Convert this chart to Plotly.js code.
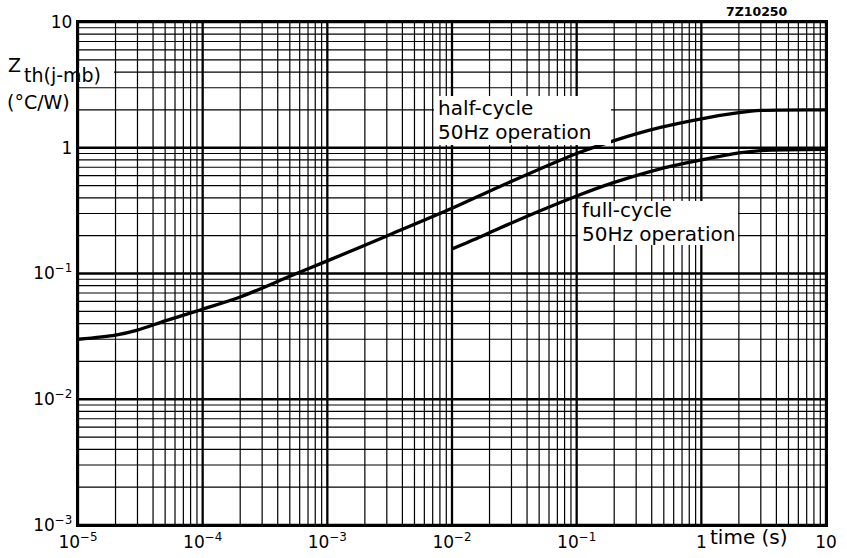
<!DOCTYPE html>
<html>
<head>
<meta charset="utf-8">
<script src="https://cdn.plot.ly/plotly-3.0.1.min.js"></script>
<style>html,body{margin:0;padding:0;background:#fff;}#chart{width:847px;height:558px;}</style>
</head>
<body>
<div id="chart"></div>
<script>
// ---- data ----
const halfTime = [1e-5, 2e-5, 3e-5, 5e-5, 1e-4, 2e-4, 5e-4, 1e-3, 3e-3, 1e-2, 2.4e-2, 0.1, 0.2, 0.47, 1, 2, 3, 10];
const halfZth  = [0.030, 0.0324, 0.0355, 0.042, 0.052, 0.065, 0.095, 0.126, 0.199, 0.33, 0.49, 0.90, 1.14, 1.45, 1.70, 1.90, 1.98, 2.0];
const fullTime = [1e-2, 1.7e-2, 2.4e-2, 0.1, 0.2, 0.47, 1, 2, 3, 10];
const fullZth  = [0.157, 0.196, 0.229, 0.413, 0.53, 0.68, 0.80, 0.91, 0.95, 0.97];

const xDecades = [1e-5, 1e-4, 1e-3, 1e-2, 1e-1, 1, 10];
const xDecadeText = ['10<sup>\u22125</sup>', '10<sup>\u22124</sup>', '10<sup>\u22123</sup>', '10<sup>\u22122</sup>', '10<sup>\u22121</sup>', '1', '10'];
const yDecades = [1e-3, 1e-2, 1e-1, 1, 10];
const yDecadeText = ['10<sup>\u22123</sup>', '10<sup>\u22122</sup>', '10<sup>\u22121</sup>', '1', '10'];
const mantissas = [2, 3, 4, 5, 6, 7, 8, 9];

// plot frame in pixels (left 78, right 826, top 22, bottom 525)
const L = 78, R = 826, T = 22, B = 525;
const px = x => (x - L) / (R - L);
const py = y => (B - y) / (B - T);
const FONT = 'DejaVu Sans, Verdana, sans-serif';

const traces = [
  {x: halfTime, y: halfZth, mode: 'lines', line: {color: '#000', width: 3.3, shape: 'spline', smoothing: 0.8}, hoverinfo: 'skip'},
  {x: fullTime, y: fullZth, mode: 'lines', line: {color: '#000', width: 3.3, shape: 'spline', smoothing: 0.8}, hoverinfo: 'skip'}
];

// grid lines: thick at decades, thin at 2..9 (paper fractions from log position)
const xFrac = v => (Math.log10(v) + 5) / 6;
const yFrac = v => (Math.log10(v) + 3) / 4;
const shapes = [];
function vline(f, w) { shapes.push({type: 'line', xref: 'paper', yref: 'paper', x0: f, x1: f, y0: 0, y1: 1, line: {color: '#000', width: w}, layer: 'below'}); }
function hline(f, w) { shapes.push({type: 'line', xref: 'paper', yref: 'paper', x0: 0, x1: 1, y0: f, y1: f, line: {color: '#000', width: w}, layer: 'below'}); }
xDecades.forEach((d, i) => {
  vline(xFrac(d), 2.3);
  if (i < xDecades.length - 1) mantissas.forEach(m => vline(xFrac(m * d), 1.2));
});
yDecades.forEach((d, i) => {
  hline(yFrac(d), 2.3);
  if (i < yDecades.length - 1) mantissas.forEach(m => hline(yFrac(m * d), 1.2));
});

function lbl(text, x, y, size, anchor, extra) {
  return Object.assign({text: text, xref: 'paper', yref: 'paper', x: px(x), y: py(y), xanchor: anchor || 'left', yanchor: 'middle',
    showarrow: false, font: {family: FONT, size: size, color: '#000'}}, extra || {});
}
function whiteBox(x0, y0, x1, y1) {
  return {text: ' ', xref: 'paper', yref: 'paper', x: px(x0), y: py(y0), xanchor: 'left', yanchor: 'top',
    width: x1 - x0, height: y1 - y0, bgcolor: '#fff', borderpad: 0, borderwidth: 0, showarrow: false, font: {size: 4}};
}

const axisCommon = {
  type: 'log', tickmode: 'array', showgrid: false, zeroline: false,
  showline: true, linecolor: '#000', linewidth: 2.3, mirror: true, ticks: '',
  tickfont: {family: FONT, size: 17, color: '#000'}
};

const layout = {
  width: 847, height: 558,
  margin: {l: L, r: 847 - R, t: T, b: 558 - B, pad: 0},
  paper_bgcolor: '#fff', plot_bgcolor: '#fff',
  showlegend: false,
  font: {family: FONT, size: 17, color: '#000'},
  xaxis: Object.assign({}, axisCommon, {range: [-5, 1], tickvals: xDecades, ticktext: xDecadeText}),
  yaxis: Object.assign({}, axisCommon, {range: [-3, 1], tickvals: yDecades, ticktext: yDecadeText}),
  shapes: shapes,
  annotations: [
    whiteBox(434, 96, 611, 145),
    whiteBox(578, 201, 738, 245),
    whiteBox(79, 68, 114, 84),
    lbl('half-cycle', 436, 108, 20),
    lbl('50Hz operation', 436, 132, 20),
    lbl('full-cycle', 580, 210, 20),
    lbl('50Hz operation', 580, 234, 20),
    lbl('Z', 6, 65, 19),
    lbl('th(j-mb)', 22, 75, 19),
    lbl('(\u00b0C/W)', 5, 102, 19),
    lbl('<b>7Z10250</b>', 757, 12, 12.5, 'center'),
    lbl('time (s)', 749, 537, 20, 'center')
  ]
};

Plotly.newPlot('chart', traces, layout, {staticPlot: true, displayModeBar: false});
</script>
</body>
</html>
